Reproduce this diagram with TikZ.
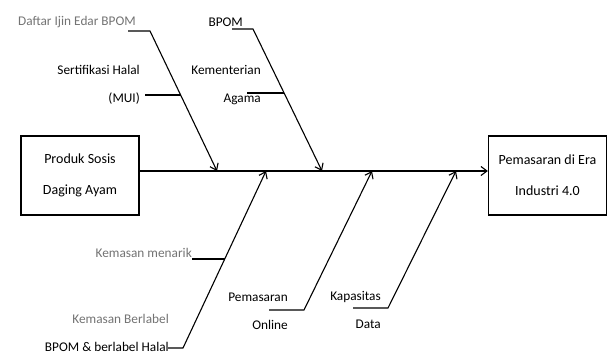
\documentclass[tikz,border=0pt]{standalone}
\usepackage{fontspec}
\setmainfont{Carlito}
\usetikzlibrary{arrows.meta,calc}
\tikzset{
  box/.style={draw, line width=1.3pt, minimum width=118pt, minimum height=79pt, inner sep=0pt, align=center, font=\fontsize{14}{31}\selectfont},
  lbl/.style={inner sep=0pt, align=right, font=\fontsize{13.3}{28}\selectfont},
  glbl/.style={lbl, text=black!55},
  bone/.style={line width=1.1pt},
  spine/.style={line width=1.4pt},
  arr/.style={-{Straight Barb[length=6pt,width=9pt,line width=1.1pt]}}
}
\begin{document}
\begin{tikzpicture}[x=1pt,y=-1pt]
\useasboundingbox (0,0) rectangle (608,356);
% boxes
\node[box] (src) at (80,175.5) {Produk Sosis\\Daging Ayam};
\node[box] (dst) at (547.5,175.5) {Pemasaran di Era\\Industri 4.0};
\coordinate (sp) at (0,171);
\draw[spine,arr] (src.east |- sp) -- (dst.west |- sp);
% top branch 1
\coordinate (t1) at (217,171);
\coordinate (b1) at (150,31);
\coordinate (u1) at (128,31);
\node[glbl, anchor=east] (l1) at (136,22) {Daftar Ijin Edar BPOM};
\draw[bone,arr] (u1) -- (b1) -- (t1);
\coordinate (s1) at ($(b1)!0.457!(t1)$);
\coordinate (s1u) at (145,95);
\node[lbl, anchor=east] (l1b) at (140,85) {Sertifikasi Halal\\(MUI)};
\draw[bone] (s1u) -- (s1 |- s1u);
% top branch 2
\coordinate (t2) at (322,171);
\coordinate (b2) at (253,29);
\coordinate (u2) at (232,29);
\node[lbl, anchor=east] (l2) at (243,22) {BPOM};
\draw[bone,arr] (u2) -- (b2) -- (t2);
\coordinate (s2) at ($(b2)!0.451!(t2)$);
\coordinate (s2u) at (247,93);
\node[lbl, anchor=east] (l2b) at (261,85.5) {Kementerian\\Agama};
\draw[bone] (s2u) -- (s2 |- s2u);
% bottom branch A
\coordinate (tA) at (266,171);
\coordinate (bA) at (183,348);
\coordinate (uA) at (168,348);
\node[lbl, anchor=east] (lA) at (169,332.5) {\textcolor{black!55}{Kemasan Berlabel}\\BPOM \& berlabel Halal};
\draw[bone,arr] (uA) -- (bA) -- (tA);
\coordinate (sA) at ($(bA)!0.503!(tA)$);
\coordinate (sAu) at (192,259);
\node[glbl, anchor=east] (lA2) at (192,253) {Kemasan menarik};
\draw[bone] (sAu) -- (sA |- sAu);
% bottom branch B
\coordinate (tB) at (372,171);
\coordinate (bB) at (304,310);
\coordinate (uB) at (269,310);
\node[lbl, anchor=east] (lB) at (288,311.5) {Pemasaran\\Online};
\draw[bone,arr] (uB) -- (bB) -- (tB);
% bottom branch C
\coordinate (tC) at (456,171);
\coordinate (bC) at (388,308);
\coordinate (uC) at (353,308);
\node[lbl, anchor=east] (lC) at (381,310) {Kapasitas\\Data};
\draw[bone,arr] (uC) -- (bC) -- (tC);
\end{tikzpicture}
\end{document}
